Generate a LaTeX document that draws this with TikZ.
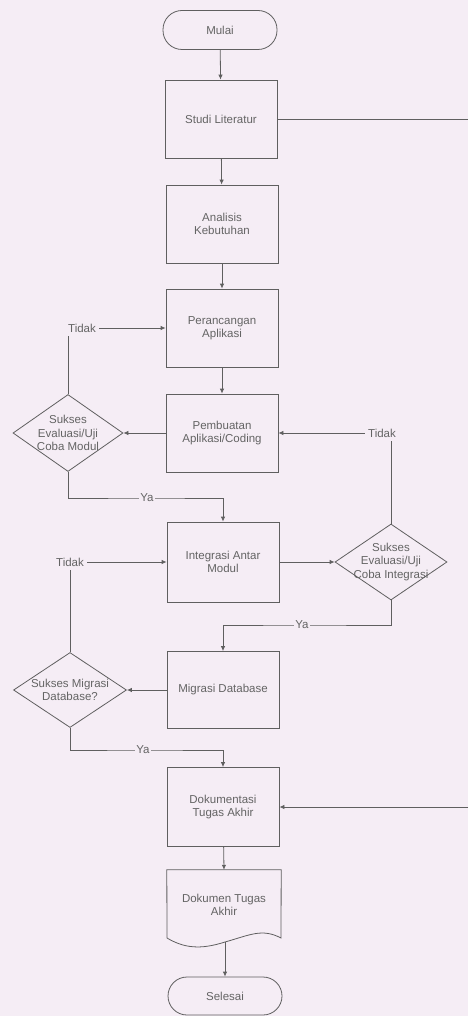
\documentclass[tikz,border=0pt]{standalone}
\usepackage{fontspec}
\setmainfont{Liberation Sans}
\usetikzlibrary{shapes.geometric,arrows.meta}
\definecolor{bg}{RGB}{245,237,245}
\definecolor{ln}{RGB}{95,95,95}
\definecolor{tx}{RGB}{100,100,100}
\begin{document}
\begin{tikzpicture}[x=1pt,y=-1pt,
  font=\fontsize{11.5}{13.5}\selectfont,
  every node/.style={text=tx},
  box/.style={draw=ln, line width=0.8pt, minimum width=112pt, minimum height=78pt, align=center, inner sep=0pt},
  term/.style={draw=ln, line width=0.8pt, rounded corners=19pt, minimum width=114pt, minimum height=39pt, inner sep=0pt},
  dec/.style={draw=ln, line width=0.8pt, diamond, inner sep=0pt},
  dectext/.style={align=center, text=tx, font=\fontsize{11.5}{13.5}\selectfont},
  lbl/.style={fill=bg, inner sep=1pt},
  ln/.style={draw=ln, line width=0.8pt},
  arr/.style={ln, -{Latex[length=5pt,width=4.5pt]}}
]
\fill[bg] (0,0) rectangle (468,1016);
\useasboundingbox (0,0) rectangle (468,1016);

% main column
\node[term] (mulai) at (220,30) {Mulai};
\node[box] (studi) at (221,119) {Studi Literatur};
\node[box] (analisis) at (222,224) {Analisis\\Kebutuhan};
\node[box] (peranc) at (222,328) {Perancangan\\Aplikasi};
\node[box] (pemb) at (222,433) {Pembuatan\\Aplikasi/Coding};
\node[box, minimum height=80pt] (integ) at (223,562) {Integrasi Antar\\Modul};
\node[box, minimum height=77pt] (migrasi) at (223,690) {Migrasi Database};
\node[box, minimum height=79pt] (dokum) at (223,807) {Dokumentasi\\Tugas Akhir};
\node[minimum width=114pt, minimum height=70pt, inner sep=0pt, align=center] (doc) at (224,905) {Dokumen Tugas\\Akhir};
\node[term, minimum height=38pt] (selesai) at (225,996) {Selesai};

% document shape
\draw[ln] (doc.north west) -- (doc.north east) -- (281,938)
  .. controls (262,928) and (250,935) .. (225,942)
  .. controls (200,950) and (184,948) .. (167,938) -- cycle;
\coordinate (docb) at (225,942);

% decisions
\node[dec, minimum width=110pt, minimum height=77pt,
  label={[dectext]center:Sukses\\Evaluasi/Uji\\Coba Modul}] (dmod) at (68,433) {};
\node[dec, minimum width=112pt, minimum height=76pt,
  label={[dectext]center:Sukses\\Evaluasi/Uji\\Coba Integrasi}] (dint) at (391,562) {};
\node[dec, minimum width=113pt, minimum height=75pt,
  label={[dectext]center:Sukses Migrasi\\Database?}] (dmig) at (70,690) {};

% labels
\node (t1) at (82,328) {Tidak};
\node (t2) at (382,433) {Tidak};
\node (t3) at (70,562) {Tidak};
\coordinate (y1) at (147,498);
\coordinate (y2) at (302,625);
\coordinate (y3) at (143,750);
\coordinate (r1) at (468,119);
\coordinate (r2) at (468,807);

% main arrows
\draw[arr] (mulai) -- (studi);
\draw[arr] (studi) -- (analisis);
\draw[arr] (analisis) -- (peranc);
\draw[arr] (peranc) -- (pemb);
\draw[arr] (dokum) -- (doc.north);
\draw[arr] (docb) -- (selesai);
\draw[ln] (studi.east) -- (r1);
\draw[arr] (r2) -- (dokum.east);

% module test loop
\draw[arr] (pemb.west) -- (dmod.east);
\draw[ln] (dmod.north) -- (dmod.north |- t1.south);
\draw[arr] (t1.east) -- (peranc.west);
\draw[arr] (dmod.south) |- (y1) -| (integ.north);
\node[lbl] at (y1) {Ya};

% integration test loop
\draw[arr] (integ.east) -- (dint.west);
\draw[ln] (dint.north) -- (dint.north |- t2.south);
\draw[arr] (t2.west) -- (pemb.east);
\draw[arr] (dint.south) |- (y2) -| (migrasi.north);
\node[lbl] at (y2) {Ya};

% migration loop
\draw[arr] (migrasi.west) -- (dmig.east);
\draw[ln] (dmig.north) -- (dmig.north |- t3.south);
\draw[arr] (t3.east) -- (integ.west);
\draw[arr] (dmig.south) |- (y3) -| (dokum.north);
\node[lbl] at (y3) {Ya};
\end{tikzpicture}
\end{document}
